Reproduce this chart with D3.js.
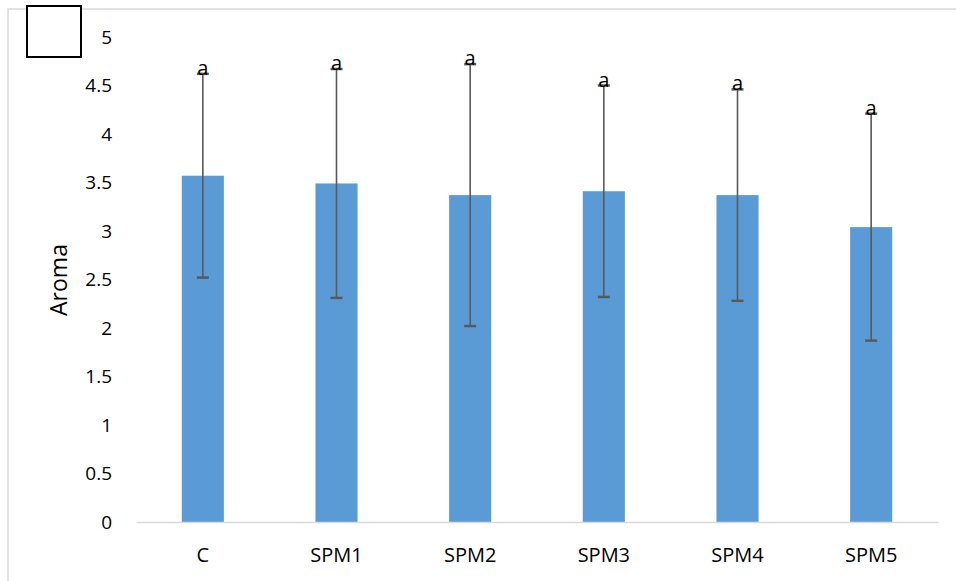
<!DOCTYPE html>
<html><head><meta charset="utf-8">
<script src="https://cdn.jsdelivr.net/npm/d3@7"></script>
<style>body{margin:0;background:#fff}svg{display:block}text{font-family:"Open Sans",sans-serif;fill:#000}</style>
</head><body><svg id="c" width="956" height="581"></svg>
<script>
const categories = ["C","SPM1","SPM2","SPM3","SPM4","SPM5"];
const values = [3.57, 3.49, 3.37, 3.41, 3.37, 3.04];
const errors = [1.05, 1.18, 1.35, 1.09, 1.09, 1.17];
const letters = ["a","a","a","a","a","a"];
const yTicks = [0,0.5,1,1.5,2,2.5,3,3.5,4,4.5,5];
const yTitle = "Aroma";

const svg = d3.select("#c");
svg.append("rect").attr("width",956).attr("height",581).attr("fill","#fff");
svg.append("rect").attr("x",8).attr("y",9).attr("width",980).attr("height",620)
  .attr("fill","none").attr("stroke","#d9d9d9").attr("stroke-width",1.5);
svg.append("rect").attr("x",27).attr("y",6).attr("width",54).attr("height",51)
  .attr("fill","#fff").attr("stroke","#000").attr("stroke-width",2);

const y = d3.scaleLinear().domain([0,5]).range([522,37]);
const x = d3.scaleBand().domain(categories).range([136,938]).paddingInner(0.685).paddingOuter(0.3425);

// y tick labels
const ya = svg.append("g").attr("transform","translate(112,0)")
  .call(d3.axisLeft(y).tickValues(yTicks).tickSize(0).tickPadding(0).tickFormat(d3.format("")));
ya.select(".domain").remove();
ya.selectAll("text").attr("font-size",19).attr("font-family","'Open Sans',sans-serif").attr("fill","#000");

// bars
svg.append("g").selectAll("rect").data(categories).join("rect")
  .attr("x",d=>x(d)).attr("width",x.bandwidth())
  .attr("y",(d,i)=>y(values[i])).attr("height",(d,i)=>y(0)-y(values[i]))
  .attr("fill","#5b9bd5");

// x axis
const xa = svg.append("g").attr("transform","translate(0,522)")
  .call(d3.axisBottom(x).tickSize(0).tickPadding(26));
xa.select(".domain").attr("stroke","#d9d9d9").attr("stroke-width",1.5);
xa.selectAll("text").attr("font-size",20).attr("font-family","'Open Sans',sans-serif").attr("fill","#000");

// error bars
const eb = svg.append("g").attr("stroke","#595959").attr("stroke-width",1.6);
categories.forEach((c,i)=>{
  const cx = x(c)+x.bandwidth()/2;
  const lo = y(values[i]-errors[i]), hi = y(values[i]+errors[i]);
  eb.append("line").attr("x1",cx).attr("x2",cx).attr("y1",lo).attr("y2",hi);
  eb.append("line").attr("x1",cx-6).attr("x2",cx+6).attr("y1",lo).attr("y2",lo).attr("stroke-width",2.5);
  eb.append("line").attr("x1",cx-6).attr("x2",cx+6).attr("y1",hi).attr("y2",hi).attr("stroke-width",2.5);
  svg.append("text").attr("x",cx).attr("y",hi+1).attr("text-anchor","middle")
    .attr("font-size",20).text(letters[i]);
});

svg.append("text").attr("transform","translate(67,280) rotate(-90)")
  .attr("text-anchor","middle").attr("font-size",23).text(yTitle);
</script></body></html>
